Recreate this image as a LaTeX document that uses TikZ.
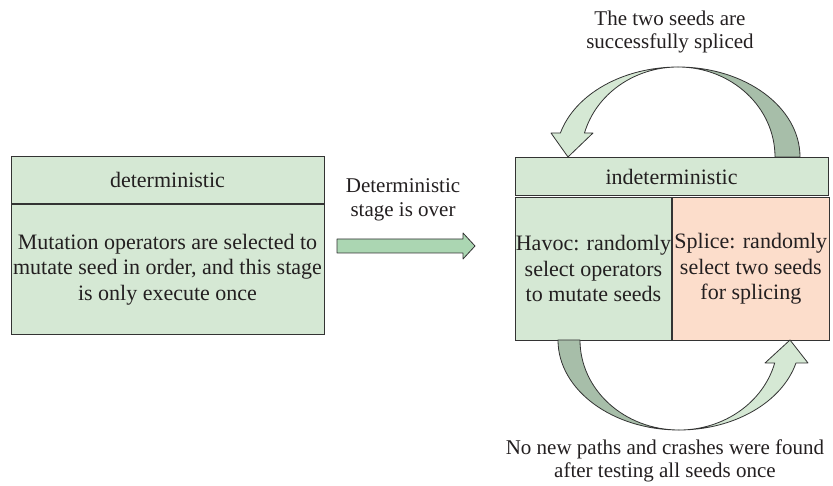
\documentclass[tikz,border=0pt]{standalone}
\usepackage{fontspec}
\setmainfont{Liberation Serif}
\usetikzlibrary{positioning}
\definecolor{boxgreen}{HTML}{D5E8D4}
\definecolor{boxsalmon}{HTML}{FCDDCB}
\definecolor{bandgreen}{HTML}{A7BEA9}
\definecolor{arrowgreen}{HTML}{ABD6B2}
\definecolor{edgegray}{HTML}{333333}
\definecolor{inkgray}{HTML}{231F20}
\tikzset{
  cell/.style={draw=edgegray, line width=0.9pt, fill=boxgreen, inner sep=0pt,
    align=center, text=inkgray, font=\fontsize{22}{25.5}\selectfont},
  band/.style={draw=edgegray, line width=0.8pt, line join=round},
  caption/.style={align=center, text=inkgray, font=\fontsize{21}{23.5}\selectfont}
}
\begin{document}
\begin{tikzpicture}[x=1pt, y=-1pt]
\useasboundingbox (0,0) rectangle (833,486);
% left stage
\node[cell, minimum width=313pt, minimum height=47pt] (dethead) at (167.5,180) {deterministic};
\node[cell, minimum width=313pt, minimum height=130pt, below=0pt of dethead] (detbody)
  {Mutation operators are selected to\\mutate seed in order, and this stage\\is only execute once};
% right stage
\node[cell, minimum width=313pt, minimum height=38pt] (indhead) at (671.5,176.5) {indeterministic};
\node[cell, minimum width=156pt, minimum height=143pt, anchor=north west] (havoc) at (515,197)
  {Havoc: randomly\\select operators\\to mutate seeds};
\node[cell, fill=boxsalmon, minimum width=157pt, minimum height=143pt, anchor=north west] (splice) at (havoc.north east)
  {Splice: randomly\\select two seeds\\for splicing};
% straight arrow between stages
\coordinate (shaftstart) at (337,246);
\draw[band, fill=arrowgreen] (shaftstart) ++(0,-7) -- ++(126,0) -- ++(0,-6) -- (475,246)
  -- (463,259) -- ++(0,-6) -- ++(-126,0) -- cycle;
\node[caption] (overlabel) at (403,200) {Deterministic\\stage is over};
% top loop arrow
\draw[band, fill=bandgreen] (678,67) arc[start angle=270, end angle=360, x radius=122, y radius=90]
  -- (775,157) arc[start angle=360, end angle=270, x radius=97, y radius=90] -- cycle;
\draw[band, fill=boxgreen] (560.4,133) arc[start angle=195.47, end angle=270, x radius=122, y radius=90]
  arc[start angle=270, end angle=195.47, x radius=97, y radius=90]
  -- (593,133) -- (568,157) -- (551,133) -- cycle;
\node[caption] (splicedlabel) at (670,32) {The two seeds are\\successfully spliced};
% bottom loop arrow
\draw[band, fill=bandgreen] (558,340) arc[start angle=180, end angle=90, x radius=121, y radius=90]
  arc[start angle=90, end angle=180, x radius=99, y radius=90] -- cycle;
\draw[band, fill=boxgreen] (679,430) arc[start angle=90, end angle=14.8, x radius=121, y radius=90]
  -- (808,363) -- (790,340) -- (765,363) -- (774.7,363)
  arc[start angle=14.8, end angle=90, x radius=99, y radius=90] -- cycle;
\node[caption] (foundlabel) at (665,461) {No new paths and crashes were found\\after testing all seeds once};
\end{tikzpicture}
\end{document}
